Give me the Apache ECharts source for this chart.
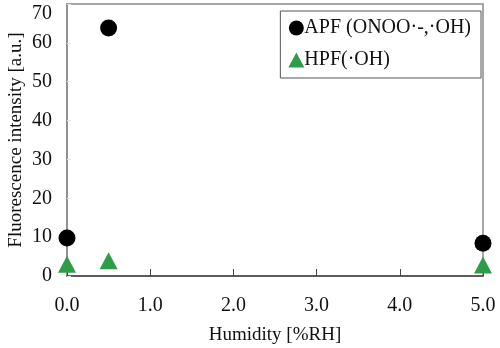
<!DOCTYPE html>
<html>
<head>
<meta charset="utf-8">
<script src="https://cdn.jsdelivr.net/npm/echarts@6/dist/echarts.min.js"></script>
<style>
  html, body { margin: 0; padding: 0; background: #fff; }
  #chart { width: 500px; height: 348px; }
</style>
</head>
<body>
<div id="chart"></div>
<script>
  // humidity [%RH]
  var humidity = [0.0, 0.5, 5.0];
  var apfValues = [9.8, 63.8, 8.4];
  var hpfValues = [3.0, 3.9, 2.8];
  var xTicks = ['0.0', '1.0', '2.0', '3.0', '4.0', '5.0'];

  var serif = '"Liberation Serif", "DejaVu Serif", serif';

  function pairs(xs, ys) {
    return xs.map(function (x, i) { return [x, ys[i]]; });
  }

  var myChart = echarts.init(document.getElementById('chart'));
  var option = {
    animation: false,
    textStyle: { fontFamily: serif },
    grid: {
      left: 67, right: 17, top: 4, bottom: 72,
      outerBoundsMode: 'none',
      show: true, borderColor: '#8a8a8a', borderWidth: 1.5
    },
    legend: {
      orient: 'vertical',
      right: 19, top: 11,
      padding: [7, 10, 8, 8],
      itemGap: 12,
      itemWidth: 16, itemHeight: 15,
      borderColor: '#555', borderWidth: 1,
      textStyle: { fontFamily: serif, fontSize: 20, color: '#111', padding: [0, 0, 0, -5] },
      data: ['APF (ONOO·-,·OH)', 'HPF(·OH)']
    },
    xAxis: {
      type: 'value',
      min: 0, max: 5, interval: 1,
      name: 'Humidity [%RH]',
      nameLocation: 'middle',
      nameGap: 50,
      nameMoveOverlap: false,
      nameTextStyle: { fontFamily: serif, fontSize: 19, color: '#111' },
      axisLine: { lineStyle: { color: '#444', width: 1.5 } },
      axisTick: { inside: true, length: 7, lineStyle: { color: '#444' } },
      axisLabel: {
        margin: 20, fontSize: 20, color: '#111', fontFamily: serif,
        formatter: function (v) { return xTicks[Math.round(v)]; }
      },
      splitLine: { show: false }
    },
    yAxis: {
      type: 'value',
      min: 0, max: 70, interval: 10,
      name: 'Fluorescence intensity [a.u.]',
      nameLocation: 'middle',
      nameGap: 41,
      nameMoveOverlap: false,
      nameTextStyle: { fontFamily: serif, fontSize: 19, color: '#111' },
      axisLine: { show: true, lineStyle: { color: '#8a8a8a', width: 1.5 } },
      axisTick: { show: true, inside: true, length: 4, lineStyle: { color: '#e4e4e4' } },
      axisLabel: {
        margin: 15, fontSize: 20, color: '#111', fontFamily: serif,
        formatter: function (v) { return v === 70 ? '{top|70}' : String(v); },
        rich: { top: { fontSize: 20, fontFamily: serif, color: '#111', padding: [20, 0, 0, 0] } }
      },
      splitLine: { show: false }
    },
    series: [
      {
        name: 'APF (ONOO·-,·OH)',
        type: 'scatter',
        symbol: 'circle',
        symbolSize: 17,
        itemStyle: { color: '#000', opacity: 1 },
        data: pairs(humidity, apfValues)
      },
      {
        name: 'HPF(·OH)',
        type: 'scatter',
        symbol: 'triangle',
        symbolSize: [18, 17],
        itemStyle: { color: '#2f9d48', opacity: 1 },
        data: pairs(humidity, hpfValues)
      }
    ]
  };
  myChart.setOption(option);
</script>
</body>
</html>
